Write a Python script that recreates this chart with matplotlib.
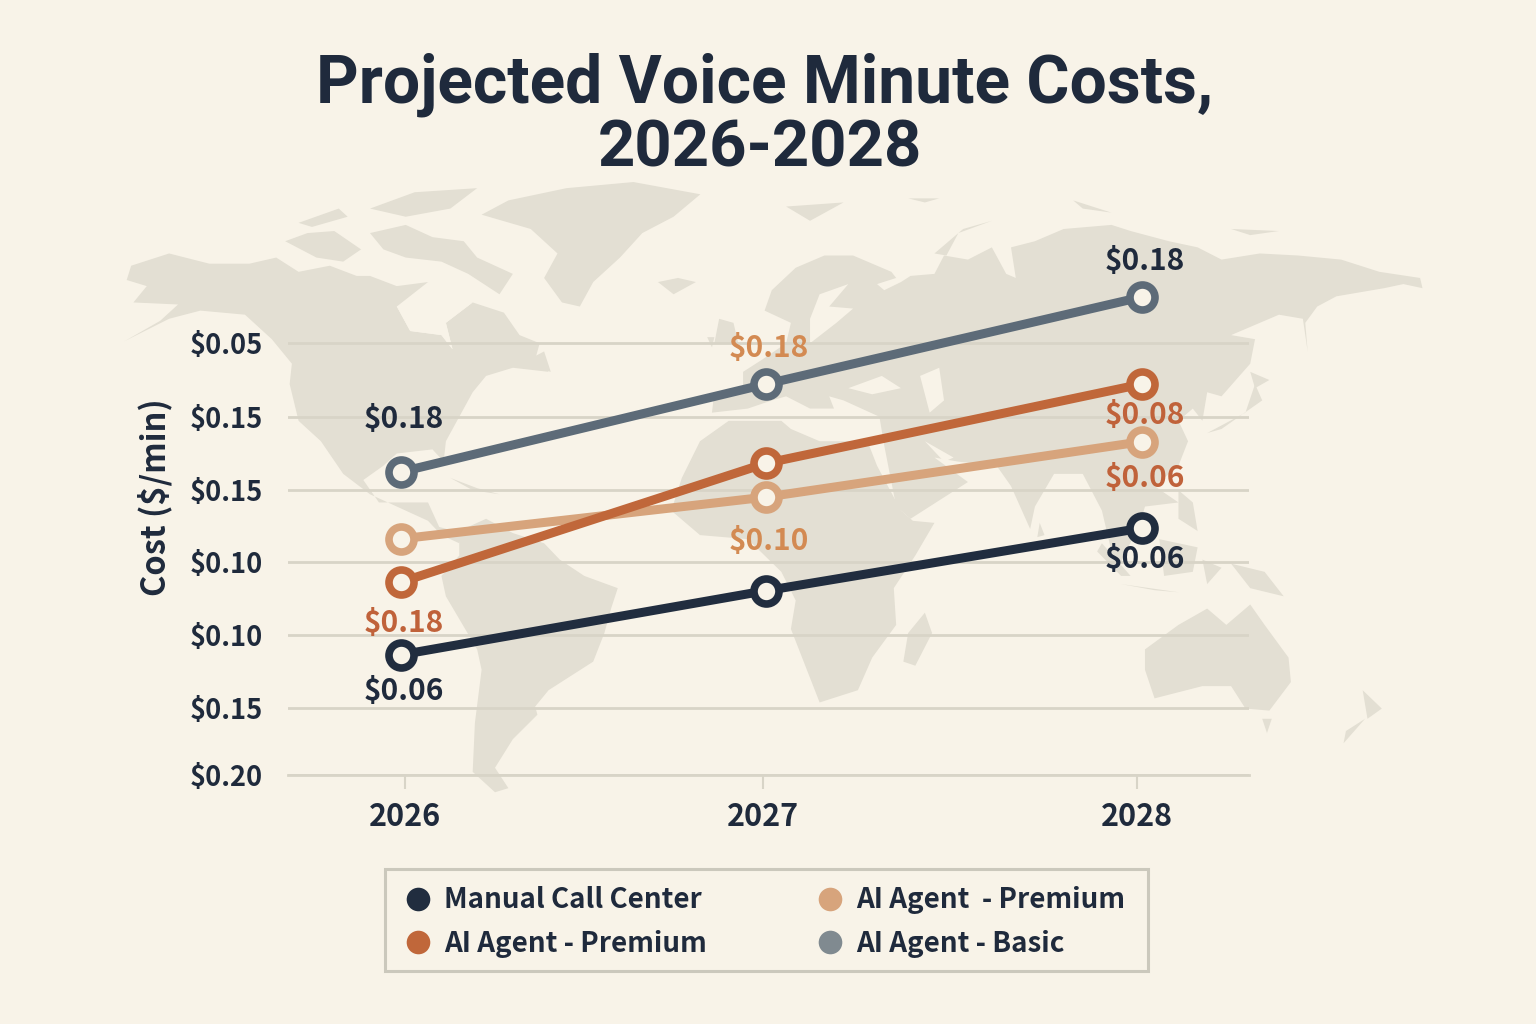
import matplotlib
matplotlib.use("Agg")
import matplotlib.pyplot as plt
from matplotlib.lines import Line2D
from matplotlib.patches import Polygon, Rectangle

# ---- chart data ----
series_names = ["Manual Call Center", "AI Agent - Premium", "AI Agent  - Premium", "AI Agent - Basic"]
series_colors = ["#212d3f", "#c0673a", "#d7a47c", "#5d6b78"]
legend_colors = ["#212d3f", "#c0673a", "#d7a47c", "#808a90"]
series_z = [6, 7, 5, 4]
year_labels = ["2026", "2027", "2028"]
year_ticks = [0.011, 0.992, 2.016]
year_points = [0.0, 1.0, 2.03]

manual_values = [1.67, 2.56, 3.43]
premium_values = [2.68, 4.33, 5.43]
premium_light_values = [3.28, 3.86, 4.63]
basic_values = [4.21, 5.43, 6.64]

manual_labels = ["$0.06", None, "$0.06"]
premium_labels = ["$0.18", None, "$0.08"]
premium_light_labels = [None, "$0.10", "$0.06"]
basic_labels = ["$0.18", "$0.18", "$0.18"]

manual_label_colors = ["#1f2a3c", None, "#1f2a3c"]
premium_label_colors = ["#c0623a", None, "#c0623a"]
premium_light_label_colors = [None, "#d38a52", "#c0623a"]
basic_label_colors = ["#1f2a3c", "#d38a52", "#1f2a3c"]

# vertical label offsets from each point, in pixels (positive is upward)
manual_offsets = [-36, None, -31]
premium_offsets = [-41, None, -31]
premium_light_offsets = [None, -44, -36]
basic_offsets = [53, 36, 36]

y_tick_rows = [6, 4.97, 3.96, 2.96, 1.94, 0.93, 0]
y_tick_labels = ["$0.05", "$0.15", "$0.15", "$0.10", "$0.10", "$0.15", "$0.20"]

# ---- palette and fonts ----
PAPER = "#f8f3e8"
LAND = "#e3dfd3"
GRID = "#d8d4c7"
INK = "#1f2a3c"
LABEL_FONT = ["Noto Sans CJK SC", "DejaVu Sans"]
LABEL_WEIGHT = "bold"

# ---- backdrop outlines; the two groups use separate sketch grids ----
west_land = [
    [(25,210),(110,180),(200,205),(290,205),(350,190),(400,225),(470,210),(530,235),(560,235),(620,260),(690,250),
     (620,310),(650,370),(720,380),(745,415),(730,350),(790,300),(860,325),(895,380),(940,400),(930,440),(960,470),
     (880,460),(820,480),(790,520),(770,560),(730,640),(725,690),(700,660),(620,670),(590,700),(545,735),(580,790),
     (640,790),(690,790),(715,850),(765,865),(760,890),(720,870),(690,835),(640,810),(560,770),(500,720),(450,640),
     (400,590),(380,500),(385,450),(340,390),(280,330),(180,320),(110,340),(10,395),(90,345),(130,305),(30,300),
     (60,260),(15,245)],
    [(810,85),(870,50),(1000,20),(1150,5),(1300,35),(1240,90),(1170,130),(1120,190),(1060,250),(1030,310),(990,300),
     (950,240),(980,180),(920,120)],
    [(370,150),(420,130),(480,125),(540,170),(500,200),(440,190)],
    [(400,105),(490,70),(510,90),(430,115)],
    [(560,70),(660,30),(800,20),(740,70),(640,90)],
    [(560,130),(640,110),(700,140),(770,150),(800,190),(880,230),(850,280),(780,230),(720,200),(640,190),(590,170)],
    [(1205,250),(1250,240),(1290,250),(1240,280)],
    [(740,730),(800,755),(850,770),(790,760)],
    [(915,440),(950,420),(965,470),(930,460)],
    [(760,860),(820,830),(880,865),(950,890),(985,930),(1040,970),(1115,1000),(1100,1050),(1085,1110),(1060,1180),
     (960,1250),(930,1290),(935,1310),(880,1370),(840,1440),(870,1490),(840,1500),(790,1450),(795,1330),(810,1200),
     (800,1150),(730,1020),(720,970),(760,920)],
]
west_water = [
    [(620,310),(700,290),(790,300),(730,350),(745,415),(720,380),(650,370)],
]
east_land = [
    [(-38,730),(0,640),(60,590),(170,590),(190,610),(250,640),(350,640),(370,700),(420,810),(445,835),(490,840),
     (450,920),(405,1000),(410,1090),(360,1170),(330,1250),(250,1280),(220,1190),(190,1100),(200,1030),(170,960),
     (100,880),(0,870),(-60,810)],
    [(470,1060),(485,1110),(450,1190),(425,1180),(435,1110)],
    [(25,570),(30,520),(90,510),(90,470),(130,440),(180,400),(190,350),(135,320),(150,270),(200,215),(260,185),
     (320,185),(400,225),(410,240),(370,255),(385,270),(420,250),(440,235),(490,230),(510,185),(560,195),(610,165),
     (640,230),(660,240),(650,165),(700,150),(760,120),(860,110),(900,125),(980,150),(1040,165),(1090,195),(1170,180),
     (1250,185),(1340,195),(1420,225),(1505,240),(1510,265),(1470,255),(1430,265),(1330,285),(1290,310),(1265,350),
     (1270,420),(1260,340),(1210,330),(1110,380),(1160,390),(1150,450),(1090,530),(1060,520),(1050,590),(1030,560),
     (1000,590),(1020,640),(1000,700),(950,750),(1000,790),(930,800),(920,840),(870,960),(840,810),(800,720),(740,720),
     (700,800),(690,855),(650,750),(620,700),(540,690),(490,680),(560,740),(440,830),(410,800),(385,650),(375,580),
     (300,540),(270,530),(280,560),(230,560),(180,530),(150,540),(100,560)],
    [(40,340),(70,350),(80,400),(30,400)],
    [(15,385),(30,385),(25,410)],
    [(1060,620),(1140,570),(1160,500),(1175,540),(1090,610)],
    [(1150,470),(1190,490),(1160,510)],
    [(710,840),(720,870),(705,875)],
    [(1000,760),(1030,790),(1040,860),(1000,830)],
    [(960,880),(1040,900),(1030,960),(970,970)],
    [(840,890),(900,970),(880,970),(830,910)],
    [(880,990),(1000,1010),(950,1005)],
    [(1050,930),(1090,950),(1060,990)],
    [(1110,940),(1180,960),(1220,1020),(1150,1000)],
    [(930,1150),(1000,1090),(1060,1050),(1100,1090),(1150,1040),(1180,1090),(1230,1170),(1235,1230),(1190,1300),
     (1140,1295),(1110,1240),(1050,1240),(950,1270),(930,1200)],
    [(1175,1320),(1195,1320),(1185,1355)],
    [(1385,1250),(1425,1295),(1395,1320)],
    [(1390,1320),(1345,1380),(1350,1350)],
    [(490,180),(550,120),(610,100),(540,130),(515,185)],
    [(180,65),(300,55),(230,100)],
    [(435,45),(500,45),(470,55)],
    [(780,50),(860,80),(800,70)],
    [(1110,120),(1210,125),(1150,135)],
]
east_water = [
    [(310,510),(380,480),(420,510),(360,525)],
    [(460,480),(500,460),(510,540),(480,570)],
    [(230,340),(250,280),(310,255),(270,310),(320,315),(285,350),(230,400)],
    [(470,640),(530,680),(510,690)],
]

def west_xy(points):
    return [(120 + x / 2.24, 180 + y / 2.45) for x, y in points]

def east_xy(points):
    return [(700 + x / 2.09, 180 + y / 2.45) for x, y in points]

fig = plt.figure(figsize=(15.36, 10.24), dpi=100, facecolor=PAPER)

# full-page layer for the world map and the legend frame, in pixels from the top left
backdrop = fig.add_axes([0, 0, 1, 1], zorder=0)
backdrop.set_xlim(0, 1536)
backdrop.set_ylim(1024, 0)
backdrop.axis("off")
for outline in west_land:
    backdrop.add_patch(Polygon(west_xy(outline), closed=True, fc=LAND, ec="none"))
for outline in east_land:
    backdrop.add_patch(Polygon(east_xy(outline), closed=True, fc=LAND, ec="none"))
for outline in west_water:
    backdrop.add_patch(Polygon(west_xy(outline), closed=True, fc=PAPER, ec="none"))
for outline in east_water:
    backdrop.add_patch(Polygon(east_xy(outline), closed=True, fc=PAPER, ec="none"))
backdrop.add_patch(Rectangle((384.5, 868.5), 763.5, 102.5, fc=PAPER, ec="#cbc8bc", lw=2.2))

# plot area: the left, bottom, width and height are given in page fractions
ax = fig.add_axes([288 / 1536, (1024 - 775) / 1024, (1249 - 288) / 1536, 504 / 1024], zorder=1)
ax.patch.set_alpha(0)
ax.set_xlim(-0.3096, 2.323)
ax.set_ylim(0, 7)
for side in ["top", "right", "left"]:
    ax.spines[side].set_visible(False)
ax.spines["bottom"].set_color(GRID)
ax.spines["bottom"].set_linewidth(2)

ax.set_yticks(y_tick_rows)
ax.set_yticklabels(y_tick_labels)
ax.tick_params(axis="y", length=0, pad=18)
ax.set_xticks(year_ticks)
ax.set_xticklabels(year_labels)
ax.tick_params(axis="x", length=10, width=1.5, color=GRID, pad=9)
for label in ax.get_yticklabels():
    label.set_family(LABEL_FONT)
    label.set_fontweight(LABEL_WEIGHT)
    label.set_color(INK)
    label.set_fontsize(19.6)
for label in ax.get_xticklabels():
    label.set_family(LABEL_FONT)
    label.set_fontweight(LABEL_WEIGHT)
    label.set_color(INK)
    label.set_fontsize(22)
ax.yaxis.grid(True, color=GRID, linewidth=2.0)
ax.set_axisbelow(True)

values_by_series = [manual_values, premium_values, premium_light_values, basic_values]
labels_by_series = [manual_labels, premium_labels, premium_light_labels, basic_labels]
label_colors_by_series = [manual_label_colors, premium_label_colors, premium_light_label_colors, basic_label_colors]
offsets_by_series = [manual_offsets, premium_offsets, premium_light_offsets, basic_offsets]

for values, color, z, texts, text_colors, offsets in zip(
        values_by_series, series_colors, series_z, labels_by_series, label_colors_by_series, offsets_by_series):
    ax.plot(year_points, values, color=color, lw=6.5, marker="o", ms=18, mew=5.5,
            mfc=PAPER, mec=color, zorder=z, clip_on=False, solid_capstyle="round")
    for x, y, text, text_color, dy in zip(year_points, values, texts, text_colors, offsets):
        if text is None:
            continue
        ax.annotate(text, (x, y), xytext=(2, dy * 0.72), textcoords="offset points",
                    ha="center", va="center", fontsize=21.5, fontweight=LABEL_WEIGHT,
                    family=LABEL_FONT, color=text_color, zorder=10)

fig.text(155 / 1536, 1 - 497 / 1024, "Cost ($/min)", rotation=90, ha="center", va="center",
         fontsize=23.5, fontweight=LABEL_WEIGHT, family=LABEL_FONT, color=INK, zorder=3)

fig.text(765 / 1536, 1 - 85 / 1024, "Projected Voice Minute Costs,", ha="center", va="center",
         fontsize=47.5, fontweight="bold", family=["Roboto", "DejaVu Sans"], color=INK, zorder=3)
fig.text(760 / 1536, 1 - 149 / 1024, "2026-2028", ha="center", va="center",
         fontsize=47, fontweight="bold", family=["Roboto", "DejaVu Sans"], color=INK, zorder=3)

handles = [Line2D([], [], ls="none", marker="o", ms=17, mfc=c, mec="none") for c in legend_colors]
legend = fig.legend(handles, series_names, ncol=2, loc="center",
                    bbox_to_anchor=(761 / 1536, 1 - 922 / 1024),
                    frameon=False,
                    prop={"family": LABEL_FONT, "weight": LABEL_WEIGHT, "size": 20},
                    labelcolor=INK, columnspacing=3.68, handletextpad=0.2, labelspacing=0.54,
                    borderpad=0.55, handlelength=1.5)

fig.savefig("out.png", dpi=100, facecolor=PAPER)
